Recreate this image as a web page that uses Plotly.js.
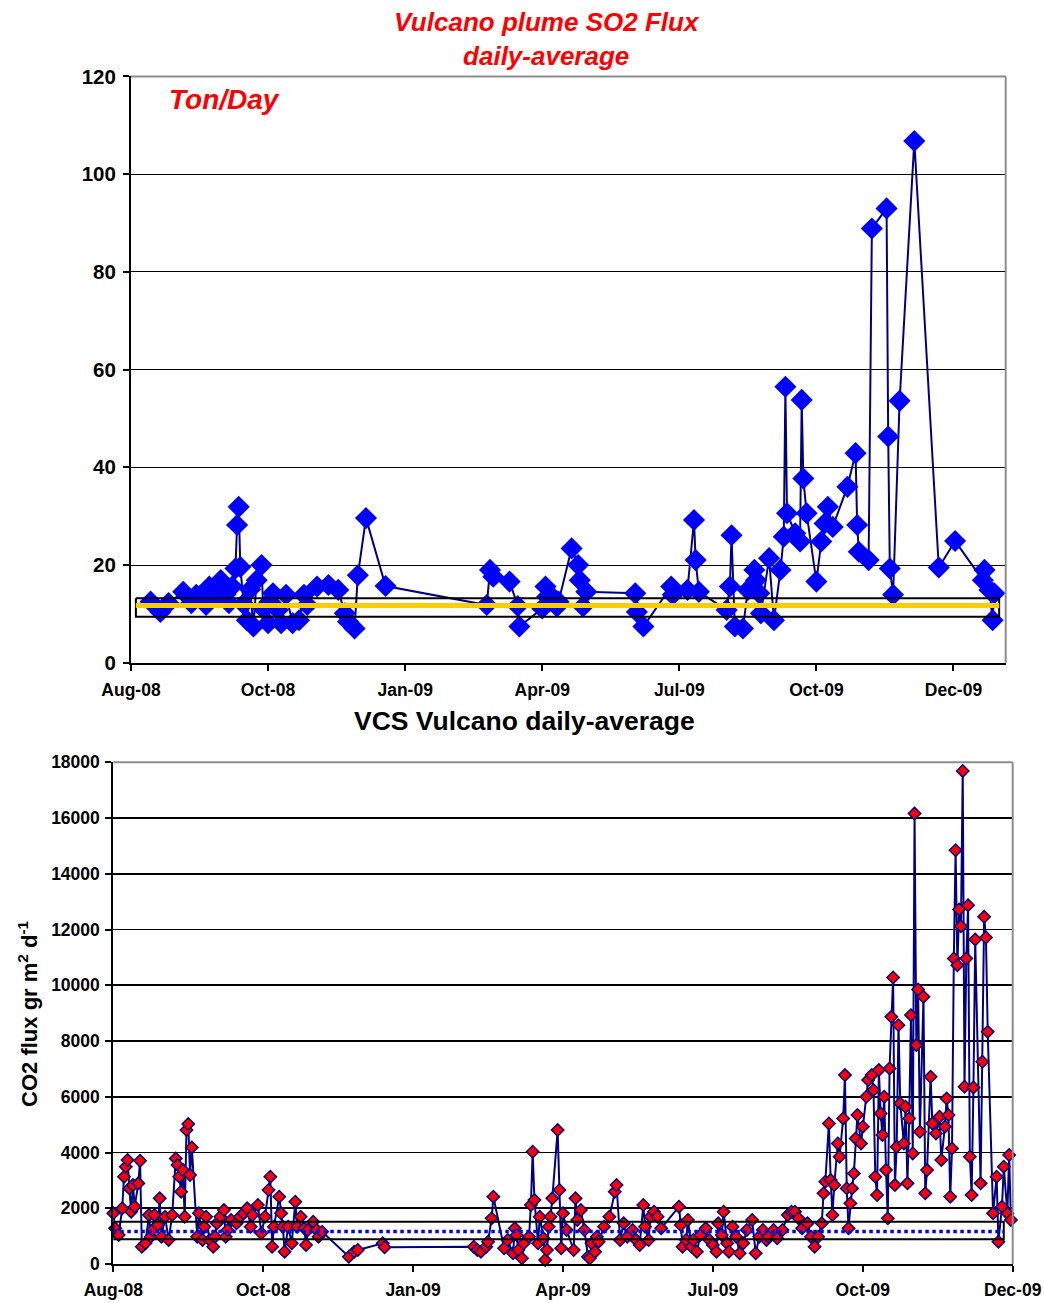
<!DOCTYPE html>
<html>
<head>
<meta charset="utf-8">
<script src="https://cdn.plot.ly/plotly-3.0.1.min.js"></script>
<style>html,body{margin:0;padding:0;background:#fff;}</style>
</head>
<body>
<div id="chart" style="width:1044px;height:1303px;"></div>
<script>
// ---- SO2 plume flux, daily average (t/day) ----
const so2Dates = [
  '2008-08-19','2008-08-25','2008-08-30','2008-09-08','2008-09-13','2008-09-16','2008-09-22','2008-09-24','2008-09-28',
  '2008-10-01','2008-10-04','2008-10-06','2008-10-08','2008-10-10','2008-10-11','2008-10-12','2008-10-13','2008-10-15',
  '2008-10-17','2008-10-19','2008-10-21','2008-10-23','2008-10-26','2008-10-27','2008-10-30','2008-10-31',
  '2008-11-02','2008-11-05','2008-11-07','2008-11-10','2008-11-14','2008-11-18','2008-11-21','2008-11-23','2008-11-29',
  '2008-12-06','2008-12-12','2008-12-16','2008-12-18','2008-12-22','2008-12-24','2008-12-29',
  '2009-01-10','2009-03-13','2009-03-15','2009-03-17','2009-03-27',
  '2009-04-01','2009-04-02','2009-04-16','2009-04-18','2009-04-19','2009-04-23','2009-04-25','2009-04-26',
  '2009-05-04','2009-05-08','2009-05-09','2009-05-11','2009-05-13',
  '2009-06-12','2009-06-13','2009-06-17',
  '2009-07-04','2009-07-05','2009-07-14','2009-07-18','2009-07-19','2009-07-21',
  '2009-08-07','2009-08-09','2009-08-10','2009-08-12','2009-08-17','2009-08-20','2009-08-24','2009-08-25','2009-08-27','2009-08-28',
  '2009-09-02','2009-09-05','2009-09-09','2009-09-11','2009-09-12','2009-09-13','2009-09-18','2009-09-21','2009-09-22','2009-09-23','2009-09-25',
  '2009-10-01','2009-10-04','2009-10-06','2009-10-08','2009-10-11','2009-10-20','2009-10-25','2009-10-26','2009-10-27',
  '2009-11-02','2009-11-04','2009-11-13','2009-11-14','2009-11-15','2009-11-17','2009-11-21','2009-11-30',
  '2009-12-15','2009-12-25',
  '2010-01-11','2010-01-12','2010-01-15','2010-01-17','2010-01-18'
];
const so2Flux = [
  12.5,10.4,12.2,14.5,12.2,13.9,11.8,15.6,13.5,
  16.9,14.0,12.2,15.6,19.3,28.2,31.9,19.6,12.0,
  8.7,15.0,7.4,16.9,20.0,11.0,8.1,12.5,
  14.2,10.8,8.1,13.9,8.1,8.7,13.9,11.8,15.6,
  15.9,14.9,10.1,8.4,7.0,17.9,29.6,
  15.7,11.8,19.0,17.6,16.6,
  11.6,7.4,11.1,15.6,13.5,13.2,11.5,12.5,
  23.4,20.0,16.9,11.5,14.5,
  14.2,10.4,7.4,
  15.6,13.9,14.9,29.2,21.0,14.5,
  10.8,15.6,26.1,7.4,7.0,14.9,19.0,16.9,14.2,10.1,
  21.4,8.7,19.0,25.8,56.5,30.6,26.5,24.8,53.8,37.7,30.6,
  16.6,24.8,28.5,31.9,27.8,36.0,42.9,28.2,22.7,
  21.0,88.9,93.0,46.3,19.3,13.9,53.6,106.8,
  19.5,24.9,
  16.9,19.0,14.9,8.7,14.2
];
// mean level and its band
const so2Mean = 11.7;
const so2BandLow = 9.4;
const so2BandHigh = 13.2;
const so2BandDates = ['2008-08-10', '2010-01-21'];

// ---- CO2 soil flux (VCS), daily average (g m-2 d-1) ----
const co2Dates = [
  '2008-08-07','2008-08-08','2008-08-10','2008-08-12','2008-08-13','2008-08-14','2008-08-15','2008-08-16','2008-08-17','2008-08-18',
  '2008-08-19','2008-08-21','2008-08-22','2008-08-23','2008-08-25','2008-08-27','2008-08-28','2008-08-29','2008-08-30',
  '2008-09-01','2008-09-02','2008-09-03','2008-09-05','2008-09-07','2008-09-09','2008-09-11','2008-09-12','2008-09-13','2008-09-14',
  '2008-09-15','2008-09-16','2008-09-17','2008-09-18','2008-09-19','2008-09-20','2008-09-23','2008-09-24','2008-09-26','2008-09-27',
  '2008-09-28','2008-09-30',
  '2008-10-02','2008-10-03','2008-10-04','2008-10-06','2008-10-08','2008-10-09','2008-10-10','2008-10-12','2008-10-15','2008-10-17',
  '2008-10-19','2008-10-21','2008-10-23','2008-10-24','2008-10-27','2008-10-29','2008-10-31',
  '2008-11-02','2008-11-03','2008-11-04','2008-11-05','2008-11-08','2008-11-09','2008-11-10','2008-11-11','2008-11-13','2008-11-15',
  '2008-11-17','2008-11-18','2008-11-20','2008-11-22','2008-11-23','2008-11-24','2008-11-27','2008-11-29','2008-11-30',
  '2008-12-02','2008-12-17','2008-12-20','2008-12-22',
  '2009-01-05','2009-01-06',
  '2009-02-25','2009-02-27',
  '2009-03-01','2009-03-04','2009-03-05','2009-03-07','2009-03-08','2009-03-14','2009-03-16','2009-03-19','2009-03-20','2009-03-21',
  '2009-03-22','2009-03-24','2009-03-25','2009-03-28','2009-03-29','2009-03-30','2009-03-31',
  '2009-04-02','2009-04-03','2009-04-05','2009-04-06','2009-04-07','2009-04-08','2009-04-09','2009-04-10','2009-04-13','2009-04-14',
  '2009-04-15','2009-04-16','2009-04-18','2009-04-22','2009-04-23','2009-04-24','2009-04-26','2009-04-28','2009-04-30',
  '2009-05-01','2009-05-02','2009-05-04','2009-05-05','2009-05-06','2009-05-09','2009-05-12','2009-05-15','2009-05-16','2009-05-18',
  '2009-05-20','2009-05-22','2009-05-25','2009-05-27','2009-05-29','2009-05-31',
  '2009-06-01','2009-06-03','2009-06-04','2009-06-06','2009-06-08','2009-06-10','2009-06-20','2009-06-21','2009-06-22','2009-06-24',
  '2009-06-25','2009-06-27','2009-06-28','2009-06-30',
  '2009-07-02','2009-07-05','2009-07-07','2009-07-09','2009-07-11','2009-07-12','2009-07-14','2009-07-15','2009-07-17','2009-07-18',
  '2009-07-20','2009-07-22','2009-07-24','2009-07-26','2009-07-28','2009-07-31',
  '2009-08-02','2009-08-04','2009-08-06','2009-08-08','2009-08-09','2009-08-12','2009-08-14','2009-08-17','2009-08-20','2009-08-22',
  '2009-08-24','2009-08-26','2009-08-28','2009-08-31',
  '2009-09-02','2009-09-04','2009-09-06','2009-09-08','2009-09-09','2009-09-10','2009-09-12','2009-09-13','2009-09-14','2009-09-15',
  '2009-09-17','2009-09-18','2009-09-20','2009-09-21','2009-09-22','2009-09-23','2009-09-24','2009-09-25','2009-09-26','2009-09-27',
  '2009-09-28','2009-09-30',
  '2009-10-01','2009-10-03','2009-10-04','2009-10-06','2009-10-07','2009-10-08','2009-10-09','2009-10-10','2009-10-11','2009-10-12',
  '2009-10-13','2009-10-14','2009-10-15','2009-10-16','2009-10-17','2009-10-18','2009-10-19','2009-10-20','2009-10-21','2009-10-22',
  '2009-10-24','2009-10-25','2009-10-26','2009-10-27','2009-10-28','2009-10-29','2009-10-30','2009-10-31',
  '2009-11-01','2009-11-02','2009-11-04','2009-11-05','2009-11-06','2009-11-08','2009-11-09','2009-11-11','2009-11-13','2009-11-14',
  '2009-11-16','2009-11-17','2009-11-18','2009-11-19','2009-11-20','2009-11-21','2009-11-22','2009-11-23','2009-11-24','2009-11-25',
  '2009-11-26','2009-11-27','2009-11-28','2009-11-29','2009-11-30',
  '2009-12-01','2009-12-02','2009-12-03','2009-12-06','2009-12-07','2009-12-08','2009-12-09','2009-12-10','2009-12-13','2009-12-15',
  '2009-12-16','2009-12-18','2009-12-19','2009-12-21','2009-12-22','2009-12-23'
];
const co2Flux = [
  1817,1279,1040,1996,3132,3490,3729,2713,1877,2833,
  2056,2893,3705,622,741,1757,980,1219,1757,
  1398,2355,980,1697,861,1757,3789,3550,3132,2594,
  3371,1697,4805,5020,3191,4184,980,1817,861,1339,
  1697,861,
  622,980,1458,1697,1936,980,1219,1578,1458,1697,
  1817,1996,1339,1757,2116,1100,1697,
  2654,3132,622,1339,2415,1817,1339,442,1339,741,
  2235,1339,1697,1279,681,1219,1518,1219,980,
  1160,263,442,502,
  741,602,
  622,502,
  442,622,801,1637,2415,562,861,383,1279,1040,
  502,203,741,980,2116,4028,2295,
  741,1697,920,143,502,1339,1697,2355,4805,2654,
  562,1817,1219,502,2355,1578,1936,1219,263,
  203,741,442,980,801,1339,1697,2594,2833,861,
  1458,980,1219,861,681,2116,
  1339,861,1697,1877,1697,1279,2056,1398,622,861,
  1578,622,861,442,
  1040,1279,861,681,442,1458,1040,1877,741,442,
  1339,980,383,741,1219,1578,
  383,980,1219,861,980,1219,920,1219,1757,1877,
  1877,1637,1279,1458,
  980,622,980,1458,2534,2952,5044,3012,1757,2833,
  4327,3849,5223,6777,2713,1279,2175,2713,3251,4506,
  5343,4327,
  4925,6000,6598,6777,6239,3132,2474,6957,5403,4626,
  6000,3371,1637,7016,8869,10280,2833,4207,8570,5761,
  4327,5642,2893,5223,8929,3968,16160,7853,
  9849,4745,9586,2534,3371,6717,5044,4686,5283,3729,
  4925,5940,5343,2415,4148,10961,14846,10722,12718,12120,
  17690,6359,10961,12874,3849,
  2474,6335,11642,2893,7255,12455,11714,8331,1817,3132,
  801,2056,3490,1817,3908,1578
];
// mean level and its band
const co2Mean = 1170;
const co2BandLow = 885;
const co2BandHigh = 1518;
const co2BandDates = ['2008-08-07', '2009-12-19'];

// date-axis ticks shared by both panels (12-week spacing)
const tickDates = ['2008-08-07','2008-10-30','2009-01-22','2009-04-16','2009-07-09','2009-10-01','2009-12-24'];

const FONT = 'Liberation Sans, Arial, Helvetica, sans-serif';
const NAVY = '#000080';

function bandBox(dates, lo, hi, xa, ya) {
  return {
    x: [dates[0], dates[1], dates[1], dates[0], dates[0]],
    y: [hi, hi, lo, lo, hi],
    xaxis: xa, yaxis: ya, mode: 'lines', hoverinfo: 'skip',
    line: {color: '#000', width: 2}
  };
}

const traces = [
  {
    x: so2Dates, y: so2Flux, xaxis: 'x', yaxis: 'y', mode: 'lines+markers', cliponaxis: false,
    line: {color: NAVY, width: 2},
    marker: {symbol: 'diamond', size: 17, color: '#0000FF', line: {width: 0}}
  },
  bandBox(so2BandDates, so2BandLow, so2BandHigh, 'x', 'y'),
  {
    x: so2BandDates, y: [so2Mean, so2Mean], xaxis: 'x', yaxis: 'y', mode: 'lines', hoverinfo: 'skip',
    line: {color: '#FFCC00', width: 5}
  },
  {
    x: co2Dates, y: co2Flux, xaxis: 'x2', yaxis: 'y2', mode: 'lines+markers', cliponaxis: false,
    line: {color: NAVY, width: 2},
    marker: {symbol: 'diamond', size: 9.5, color: '#FF0000', line: {color: NAVY, width: 1.5}}
  },
  bandBox(co2BandDates, co2BandLow, co2BandHigh, 'x2', 'y2'),
  {
    x: co2BandDates, y: [co2Mean, co2Mean], xaxis: 'x2', yaxis: 'y2', mode: 'lines', hoverinfo: 'skip',
    line: {color: '#0000FF', width: 3.5, dash: 'dot'}
  }
];

const xCommon = {
  type: 'date', tickvals: tickDates, tickformat: '%b-%y',
  ticks: 'outside', ticklen: 6, tickwidth: 2, tickcolor: '#000',
  showline: true, linecolor: '#000', linewidth: 2, showgrid: false, zeroline: false,
  tickfont: {family: FONT, size: 17.5, weight: 'bold', color: '#000'}
};
const yCommon = {
  ticks: 'outside', ticklen: 6, tickwidth: 2, tickcolor: '#000',
  showline: true, linecolor: '#000', linewidth: 2,
  showgrid: true, gridcolor: '#000', zeroline: false
};

function frame(xa, ya) {
  const xr = xa + ' domain', yr = ya + ' domain';
  return [
    {type: 'line', xref: xr, yref: yr, x0: 0, x1: 1, y0: 1, y1: 1, line: {color: '#8c8c8c', width: 2}},
    {type: 'line', xref: xr, yref: yr, x0: 1, x1: 1, y0: 0, y1: 1, line: {color: '#8c8c8c', width: 2}}
  ];
}

const layout = {
  width: 1044, height: 1303,
  margin: {l: 0, r: 0, t: 0, b: 0},
  paper_bgcolor: '#fff', plot_bgcolor: '#fff',
  showlegend: false,
  font: {family: FONT, color: '#000'},
  xaxis: Object.assign({}, xCommon, {
    domain: [0.12548, 0.96331], anchor: 'y', range: ['2008-08-07', '2010-01-25'],
    ticklabelstandoff: 4
  }),
  yaxis: Object.assign({}, yCommon, {
    domain: [0.49140, 0.94129], anchor: 'x', range: [0, 120], tick0: 0, dtick: 20,
    gridwidth: 1, ticklabelstandoff: 3,
    tickfont: {family: FONT, size: 20.5, weight: 'bold', color: '#000'}
  }),
  xaxis2: Object.assign({}, xCommon, {
    domain: [0.10853, 0.97002], anchor: 'y2', range: ['2008-08-07', '2009-12-24'],
    ticklabelstandoff: 3
  }),
  yaxis2: Object.assign({}, yCommon, {
    domain: [0.02993, 0.41497], anchor: 'x2', range: [0, 18000], tick0: 0, dtick: 2000,
    tickformat: 'd', gridwidth: 1.6, ticklabelstandoff: 2,
    tickfont: {family: FONT, size: 17.5, weight: 'bold', color: '#000'}
  }),
  shapes: frame('x', 'y').concat(frame('x2', 'y2')),
  annotations: [
    {
      text: 'Vulcano plume SO2 Flux<br>daily-average', xref: 'paper', yref: 'paper',
      x: 0.524, y: 0.97045, xanchor: 'center', yanchor: 'middle', showarrow: false,
      font: {family: FONT, size: 26, weight: 'bold', style: 'italic', color: '#FF0000'}
    },
    {
      text: 'Ton/Day', xref: 'paper', yref: 'paper',
      x: 0.1595, y: 0.92402, xanchor: 'left', yanchor: 'middle', showarrow: false,
      font: {family: FONT, size: 28, weight: 'bold', style: 'italic', color: '#FF0000'}
    },
    {
      text: 'VCS Vulcano daily-average', xref: 'paper', yref: 'paper',
      x: 0.50192, y: 0.44666, xanchor: 'center', yanchor: 'middle', showarrow: false,
      font: {family: FONT, size: 26.5, weight: 'bold', color: '#000'}
    },
    {
      text: 'CO2 flux gr m<sup>2</sup> d<sup>-1</sup>', xref: 'paper', yref: 'paper',
      x: 0.0268, y: 0.2226, xanchor: 'center', yanchor: 'middle', textangle: -90, showarrow: false,
      font: {family: FONT, size: 22, weight: 'bold', color: '#000'}
    }
  ]
};

Plotly.newPlot('chart', traces, layout, {staticPlot: true, displayModeBar: false});
</script>
</body>
</html>
